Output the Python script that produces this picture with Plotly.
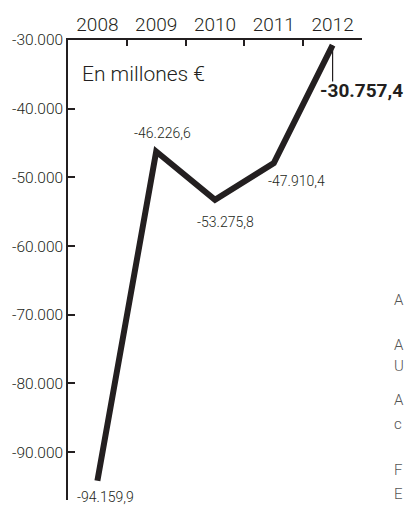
import plotly.graph_objects as go

years = ["2008", "2009", "2010", "2011", "2012"]
values = [-94159.9, -46226.6, -53275.8, -47910.4, -30757.4]
value_labels = ["-94.159,9", "-46.226,6", "-53.275,8", "-47.910,4", "-30.757,4"]
y_ticks = [-90000, -80000, -70000, -60000, -50000, -40000, -30000]
y_tick_labels = ["-90.000", "-80.000", "-70.000", "-60.000", "-50.000", "-40.000", "-30.000"]

FONT = "Roboto, Liberation Sans, sans-serif"
INK = "#231f20"

fig = go.Figure()
fig.add_trace(go.Scatter(
    x=years, y=values, mode="lines",
    line=dict(color=INK, width=6), hoverinfo="skip", showlegend=False,
))

# label offsets (pixels)
shifts = [(8, -16), (6, 18), (10, -22), (23, -18), (29, -45)]
for i, (xs, ys) in enumerate(shifts):
    bold = i == len(years) - 1
    fig.add_annotation(
        x=i, y=values[i], xref="x", yref="y",
        text=("<b>%s</b>" % value_labels[i]) if bold else value_labels[i],
        showarrow=False, xshift=xs, yshift=ys, xanchor="center", yanchor="middle",
        font=dict(family=FONT, size=19 if bold else 14, color=INK,
                  weight=700 if bold else 300),
    )

# leader line for 2012 label
last = len(years) - 1
fig.add_shape(type="line", xref="x", yref="y", x0=last, x1=last,
              y0=values[last], y1=values[last] - 5300, line=dict(color=INK, width=1.2))

fig.add_annotation(xref="paper", yref="paper", x=0.04, y=0.925, text="En millones €",
                   showarrow=False, xanchor="left", yanchor="middle",
                   font=dict(family=FONT, size=21, color=INK, weight=300))

# cut-off text from neighbouring column
side = [("A", 300), ("A", 345), ("U", 366), ("A", 400), ("c", 424), ("F", 470), ("E", 494)]
for t, py in side:
    fig.add_annotation(xref="paper", yref="paper", x=(392 - 68) / 294, y=(500 - py) / 460,
                       text=t, showarrow=False, xanchor="left", yanchor="middle",
                       font=dict(family=FONT, size=15, color="#555555", weight=300))

fig.update_xaxes(
    side="top", type="category", range=[-0.5, 4.5], tickangle=0, automargin=False,
    showline=True, linecolor=INK, linewidth=1.5,
    ticks="inside", tickson="boundaries", ticklen=6, tickcolor=INK, tickwidth=1.5,
    tickfont=dict(family=FONT, size=19, color=INK, weight=300),
    showgrid=False, zeroline=False, fixedrange=True,
)
fig.update_yaxes(
    range=[-96960, -30000], tickvals=y_ticks, ticktext=y_tick_labels, automargin=False,
    showline=True, linecolor=INK, linewidth=1.5,
    ticks="inside", ticklen=7, tickcolor=INK, tickwidth=1.5,
    tickfont=dict(family=FONT, size=15.5, color=INK, weight=300),
    showgrid=False, zeroline=False, fixedrange=True,
)
fig.update_layout(
    width=404, height=510,
    margin=dict(l=68, r=42, t=40, b=10),
    paper_bgcolor="white", plot_bgcolor="white",
    font=dict(family=FONT, color=INK),
)
fig.write_html("out.html", config={"displayModeBar": False},
               post_script="document.body.style.margin='0';")
